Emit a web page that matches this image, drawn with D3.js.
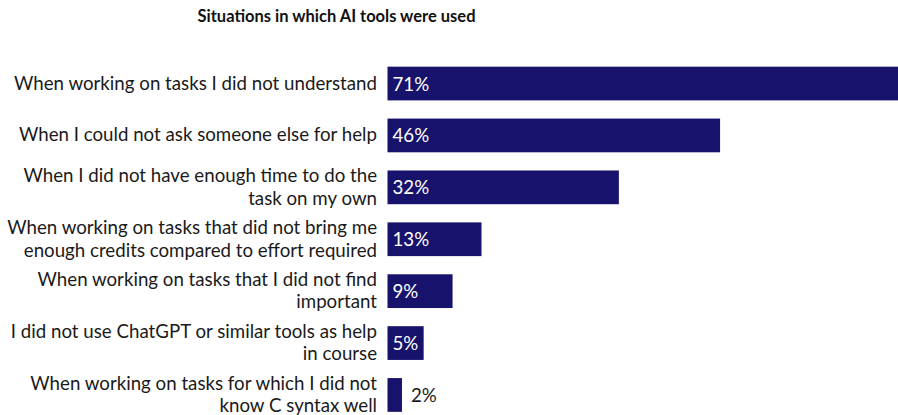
<!DOCTYPE html>
<html>
<head>
<meta charset="utf-8">
<script src="https://cdn.jsdelivr.net/npm/d3@7"></script>
<style>
  body { margin: 0; background: #fff; }
  svg { display: block; font-family: Lato, "Open Sans", sans-serif; }
</style>
</head>
<body>
<div id="chart"></div>
<script>
const title = "Situations in which AI tools were used";
const categories = [
  ["When working on tasks I did not understand"],
  ["When I could not ask someone else for help"],
  ["When I did not have enough time to do the", "task on my own"],
  ["When working on tasks that did not bring me", "enough credits compared to effort required"],
  ["When working on tasks that I did not find", "important"],
  ["I did not use ChatGPT or similar tools as help", "in course"],
  ["When working on tasks for which I did not", "know C syntax well"]
];
const values = [71, 46, 32, 13, 9, 5, 2];

const W = 898, H = 415;
const BAR = "#17126b";
const LINE_H = 22.5;

const svg = d3.select("#chart").append("svg")
    .attr("width", W)
    .attr("height", H);

const data = categories.map((c, i) => ({ key: c.join(" "), lines: c, value: values[i] }));

var x = d3.scaleLinear()
    .domain([0, 100])
    .range([387.5, 387.5 + 723]);

var y = d3.scaleBand()
    .domain(data.map(d => d.key))
    .range([48.5, 430])
    .padding(0.35);

// title
svg.append("text")
    .attr("x", 336.5)
    .attr("y", 22)
    .attr("text-anchor", "middle")
    .style("font-size", "16.5px")
    .style("font-weight", "bold")
    .style("fill", "#111")
    .text(title);

// bars
svg.append("g").selectAll("rect")
    .data(data)
    .enter()
    .append("rect")
    .attr("x", x(0))
    .attr("y", d => y(d.key))
    .attr("width", d => x(d.value) - x(0))
    .attr("height", y.bandwidth())
    .style("fill", BAR);

// category labels, right aligned, centred on bar
const labels = svg.append("g").selectAll("text")
    .data(data)
    .enter()
    .append("text")
    .attr("text-anchor", "end")
    .attr("dominant-baseline", "central")
    .style("font-size", "18.7px")
    .style("fill", "#1a1a1a");

labels.each(function(d) {
    const cy = y(d.key) + y.bandwidth() / 2 - 1;
    const n = d.lines.length;
    d3.select(this).selectAll("tspan")
        .data(d.lines)
        .enter()
        .append("tspan")
        .attr("x", 377)
        .attr("y", (l, i) => cy + (i - (n - 1) / 2) * LINE_H)
        .text(l => l);
});

// value labels
svg.append("g").selectAll("text")
    .data(data)
    .enter()
    .append("text")
    .attr("x", d => d.value < 3 ? x(d.value) + 9 : x(0) + 5)
    .attr("y", d => y(d.key) + y.bandwidth() / 2)
    .attr("dominant-baseline", "central")
    .style("font-size", "18.7px")
    .style("fill", d => d.value < 3 ? "#1a1a1a" : "#fff")
    .text(d => d.value + "%");
</script>
</body>
</html>
